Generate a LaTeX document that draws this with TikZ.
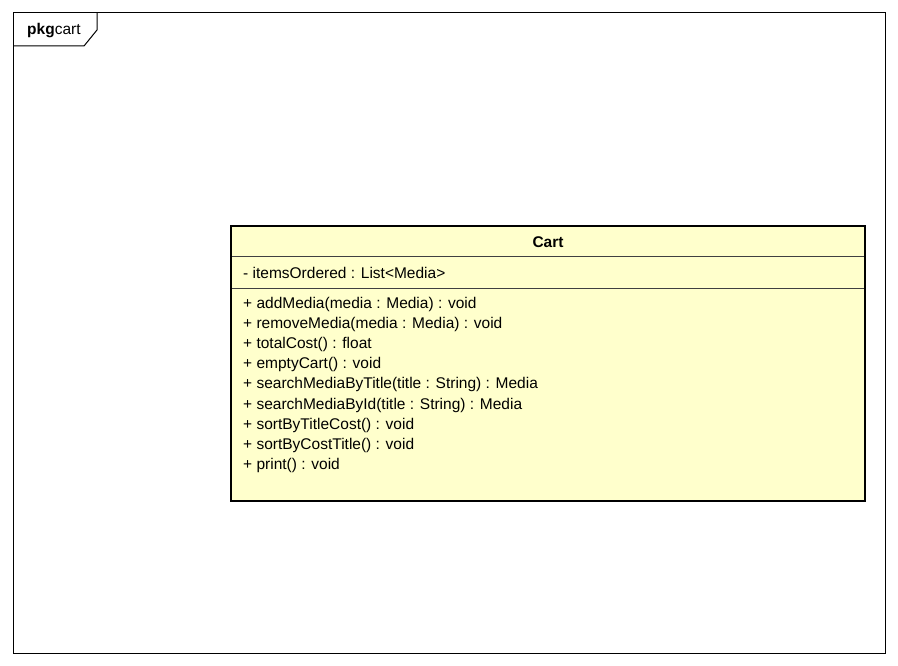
\documentclass[tikz,border=0pt]{standalone}
\usepackage{fontspec}
\setmainfont{Liberation Sans}
\definecolor{classfill}{HTML}{FFFFCC}
\begin{document}
\begin{tikzpicture}[x=1pt,y=-1pt,
  txt/.style={anchor=west,inner sep=0pt,font=\fontsize{15.5}{17}\selectfont},
  pkgline/.style={draw=black,line width=1pt},
  sepline/.style={draw=black!75,line width=1pt}]
\useasboundingbox (0,0) rectangle (898,666);
% package frame
\draw[pkgline] (13,13) rectangle (885,653);
\draw[pkgline] (13,46) -- (84,46) -- (97,30) -- (97,13);
\node[txt] (pkglabel) at (27,31) {\textbf{pkg}cart};
% class box
\path[fill=classfill] (231,226) rectangle (865,501);
\draw[sepline] (231,257) -- (865,257);
\draw[sepline] (231,288) -- (865,288);
\draw[draw=black,line width=2.6pt] (231,226) rectangle (865,501);
\node[txt,anchor=center] (title) at (548,242) {\textbf{Cart}};
\node[txt] (attr) at (243,273) {- itemsOrdered : List<Media>};
\node[txt] (m1) at (243,304) {+ addMedia(media : Media) : void};
\node[txt] (m2) at (243,324.2) {+ removeMedia(media : Media) : void};
\node[txt] (m3) at (243,344.4) {+ totalCost() : float};
\node[txt] (m4) at (243,364.6) {+ emptyCart() : void};
\node[txt] (m5) at (243,384.8) {+ searchMediaByTitle(title : String) : Media};
\node[txt] (m6) at (243,405) {+ searchMediaById(title : String) : Media};
\node[txt] (m7) at (243,425.2) {+ sortByTitleCost() : void};
\node[txt] (m8) at (243,445.4) {+ sortByCostTitle() : void};
\node[txt] (m9) at (243,465.6) {+ print() : void};
\end{tikzpicture}
\end{document}
